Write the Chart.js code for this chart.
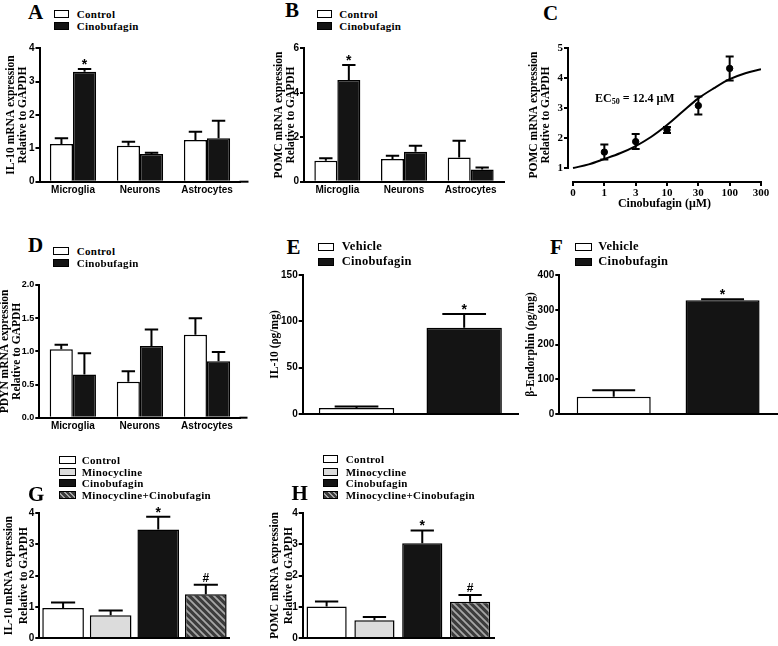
<!DOCTYPE html>
<html><head><meta charset="utf-8">
<script src="https://cdn.jsdelivr.net/npm/chart.js@4.4.1/dist/chart.umd.min.js"></script>
<style>
html,body{margin:0;padding:0;background:#fff;}
body{width:778px;height:646px;position:relative;overflow:hidden;}
canvas{position:absolute;}
.letter{position:absolute;font:bold 21px "Liberation Serif","Times New Roman",serif;line-height:1;color:#000;}
.legrow{position:absolute;display:flex;align-items:center;height:14px;font-family:"Liberation Serif","Times New Roman",serif;font-weight:bold;color:#000;white-space:nowrap;letter-spacing:0.3px;}
.sw{box-sizing:border-box;border:1.5px solid #000;flex:none;}
.ec50{position:absolute;font:bold 12px "Liberation Serif","Times New Roman",serif;color:#000;white-space:nowrap;line-height:14px;}
.ec50 sub{font-size:8px;vertical-align:-2px;}
</style></head><body>
<script>
// ---------- DATA ----------
const cellTypes = ['Microglia', 'Neurons', 'Astrocytes'];
const seriesABD = ['Control', 'Cinobufagin'];
// A: IL-10 mRNA
const il10Control = [1.13, 1.08, 1.25];
const il10ControlErr = [0.17, 0.12, 0.25];
const il10Cino = [3.30, 0.83, 1.30];
const il10CinoErr = [0.08, 0.04, 0.53];
const il10CinoMarks = ['*', '', ''];
// B: POMC mRNA
const pomcControl = [0.94, 1.02, 1.09];
const pomcControlErr = [0.11, 0.15, 0.75];
const pomcCino = [4.57, 1.35, 0.55];
const pomcCinoErr = [0.68, 0.27, 0.09];
const pomcCinoMarks = ['*', '', ''];
// C: dose response
const doseTickLabels = ['0', '1', '3', '10', '30', '100', '300'];
const dosePos = [1, 2, 3, 4, 5];
const doseMean = [1.53, 1.88, 2.27, 3.08, 4.32];
const doseErr = [0.25, 0.25, 0.10, 0.30, 0.40];
const fitPos = [0, 0.5, 1, 1.5, 2, 2.5, 3, 3.5, 4, 4.5, 5, 5.5, 6];
const fitVal = [1.00, 1.12, 1.30, 1.49, 1.73, 2.04, 2.43, 2.88, 3.32, 3.66, 3.96, 4.16, 4.29];
// D: PDYN mRNA
const pdynControl = [1.03, 0.54, 1.25];
const pdynControlErr = [0.07, 0.16, 0.25];
const pdynCino = [0.65, 1.08, 0.85];
const pdynCinoErr = [0.32, 0.25, 0.14];
// E, F
const treatEF = ['Vehicle', 'Cinobufagin'];
const il10Protein = [6.5, 93];
const il10ProteinErr = [1.5, 15];
const endorphin = [50, 327];
const endorphinErr = [18, 3];
const marksEF = ['', '*'];
// G, H
const groupsGH = ['Control', 'Minocycline', 'Cinobufagin', 'Minocycline+Cinobufagin'];
const il10Mino = [0.96, 0.73, 3.48, 1.40];
const il10MinoErr = [0.18, 0.15, 0.41, 0.31];
const pomcMino = [1.01, 0.57, 3.04, 1.16];
const pomcMinoErr = [0.16, 0.10, 0.41, 0.22];
const marksGH = ['', '', '*', '#'];

// ---------- STYLE ----------
const SANS = '"Liberation Sans", Arial, sans-serif';
const SERIF = '"Liberation Serif", "Times New Roman", serif';
const WHITE = '#ffffff', BLACK = '#141414', LGRAY = '#dcdcdc';
function hatchPattern() {
  const c = document.createElement('canvas'); c.width = 7; c.height = 7;
  const g = c.getContext('2d');
  g.fillStyle = '#3c3c3c'; g.fillRect(0, 0, 7, 7);
  g.strokeStyle = '#a6a6a6'; g.lineWidth = 1.8;
  g.beginPath();
  g.moveTo(-1, -1); g.lineTo(8, 8);
  g.moveTo(-8, -1); g.lineTo(1, 8);
  g.moveTo(6, -1); g.lineTo(15, 8);
  g.stroke();
  return g.createPattern(c, 'repeat');
}
const HATCH_CSS = 'repeating-linear-gradient(45deg,#3c3c3c 0px,#3c3c3c 2.5px,#a6a6a6 2.5px,#a6a6a6 4px)';

// ---------- PLUGINS ----------
const errPlugin = {
  id: 'errbars',
  afterDatasetsDraw(chart) {
    const ctx = chart.ctx, ys = chart.scales.y;
    chart.data.datasets.forEach((ds, di) => {
      if (!ds.errors) return;
      const meta = chart.getDatasetMeta(di);
      meta.data.forEach((el, i) => {
        const raw = ds.data[i];
        const val = (typeof raw === 'object') ? raw.y : raw;
        const e = ds.errors[i];
        const x = el.x;
        const yTop = ys.getPixelForValue(val + e);
        const yBot = ds.bothErr ? ys.getPixelForValue(val - e) : el.y;
        const cw = ds.capWidth || el.width * 0.58;
        ctx.save();
        ctx.strokeStyle = '#000'; ctx.lineWidth = 2;
        ctx.beginPath();
        ctx.moveTo(x, yBot); ctx.lineTo(x, yTop);
        ctx.moveTo(x - cw / 2, yTop); ctx.lineTo(x + cw / 2, yTop);
        if (ds.bothErr) { ctx.moveTo(x - cw / 2, yBot); ctx.lineTo(x + cw / 2, yBot); }
        ctx.stroke();
        if (ds.marks && ds.marks[i]) {
          const m = ds.marks[i];
          ctx.fillStyle = '#000';
          ctx.textAlign = 'center'; ctx.textBaseline = 'alphabetic';
          ctx.font = (m === '*' ? 'bold 14px ' : 'bold 12px ') + SANS;
          ctx.fillText(m, x, yTop - (m === '*' ? 0 : 2.5));
        }
        ctx.restore();
      });
    });
  }
};
const axisPlugin = {
  id: 'axisExtras',
  afterDraw(chart, args, opts) {
    const ca = chart.chartArea, ctx = chart.ctx;
    ctx.save(); ctx.strokeStyle = '#000'; ctx.lineWidth = 2; ctx.lineCap = 'butt';
    if (opts.extendX) {
      ctx.beginPath(); ctx.moveTo(ca.right - 1, ca.bottom); ctx.lineTo(ca.right + opts.extendX, ca.bottom); ctx.stroke();
    }
    if (opts.sep) {
      const xs = chart.scales.x, ys = chart.scales.y;
      ctx.beginPath();
      ctx.moveTo(ca.left, ys.getPixelForValue(opts.sep.yMin) + 1); ctx.lineTo(ca.left, ys.getPixelForValue(opts.sep.yMax) - 1);
      ctx.moveTo(xs.getPixelForValue(opts.sep.xMin) - 1, ca.bottom); ctx.lineTo(xs.getPixelForValue(opts.sep.xMax) + 1, ca.bottom);
      ctx.stroke();
    }
    ctx.restore();
  }
};

// ---------- HELPERS ----------
function panel(L, build) {
  const cl = Math.floor(L.titleX - L.lh / 2 - 1.5);
  const ct = Math.floor(L.top - 12);
  const cw = Math.ceil(L.right + (L.padRight ?? 6) - cl);
  const ch = Math.ceil(L.bottom + L.xH - ct);
  const cv = document.createElement('canvas');
  cv.width = cw; cv.height = ch;
  cv.style.left = cl + 'px'; cv.style.top = ct + 'px';
  document.body.appendChild(cv);
  const g = {
    yW: L.axisX - cl,
    padTop: L.top - ct,
    padRight: cw - (L.right - cl),
    xH: ch - (L.bottom - ct),
    titlePad: L.titleX - cl - L.lh / 2,
    lh: L.lh
  };
  const cfg = build(g);
  cfg.options.responsive = false;
  cfg.options.animation = false;
  cfg.options.layout = { padding: { top: g.padTop, right: g.padRight, left: 0, bottom: 0 } };
  cfg.options.plugins = Object.assign({ legend: { display: false }, tooltip: { enabled: false } }, cfg.options.plugins || {});
  cfg.plugins = [errPlugin, axisPlugin];
  return new Chart(cv, cfg);
}
function yAxis(g, o) {
  const tfs = o.tfs || 11.5;
  return {
    type: 'linear', min: o.min, max: o.max,
    afterFit: s => { s.width = g.yW; },
    afterBuildTicks: o.ticks ? (s => { s.ticks = o.ticks.map(v => ({ value: v })); }) : undefined,
    ticks: { stepSize: o.step, padding: 1, color: '#000', font: o.tickFont || { family: SANS, weight: 'bold', size: 10 }, callback: o.fmt || (v => v) },
    grid: { display: true, drawOnChartArea: false, drawTicks: true, tickLength: 4, color: '#000', lineWidth: 2 },
    border: { display: o.border !== false, color: '#000', width: 2 },
    title: { display: true, text: o.title, color: '#000', font: { family: SERIF, weight: 'bold', size: tfs, lineHeight: g.lh / tfs }, padding: { top: g.titlePad, bottom: 0 } }
  };
}
function xCat(g, show) {
  return {
    type: 'category', offset: true,
    afterFit: s => { s.height = g.xH; },
    grid: { display: false, drawTicks: false },
    border: { display: true, color: '#000', width: 2 },
    ticks: { display: show, padding: 3, color: '#000', font: { family: SANS, weight: 'bold', size: 10 }, autoSkip: false, maxRotation: 0 }
  };
}
function letter(ch, x, cy) {
  const d = document.createElement('div'); d.className = 'letter';
  d.textContent = ch; d.style.left = x + 'px'; d.style.top = (cy - 10.6) + 'px';
  document.body.appendChild(d);
}
function legend(boxX, rows, names, fills, o) {
  names.forEach((n, i) => {
    const r = document.createElement('div'); r.className = 'legrow';
    r.style.left = boxX + 'px'; r.style.top = (rows[i] - 7) + 'px'; r.style.fontSize = o.fs + 'px';
    const s = document.createElement('span'); s.className = 'sw';
    s.style.width = o.bw + 'px'; s.style.height = o.bh + 'px'; s.style.background = fills[i];
    const t = document.createElement('span'); t.textContent = n; t.style.marginLeft = (o.tx - boxX - o.bw) + 'px';
    r.appendChild(s); r.appendChild(t); document.body.appendChild(r);
  });
}
function groupedBars(L, labels, s1, e1, m1, s2, e2, m2, yo, extendX) {
  return panel(L, g => ({
    type: 'bar',
    data: { labels, datasets: [
      { label: seriesABD[0], data: s1, errors: e1, marks: m1, backgroundColor: WHITE, borderColor: '#000', borderWidth: 1.5, categoryPercentage: 0.69, barPercentage: 1.0 },
      { label: seriesABD[1], data: s2, errors: e2, marks: m2, backgroundColor: BLACK, borderColor: '#000', borderWidth: 1.5, categoryPercentage: 0.69, barPercentage: 1.0 }
    ] },
    options: { scales: { x: xCat(g, true), y: yAxis(g, yo) }, plugins: { axisExtras: { extendX } } }
  }));
}
function singleBars(L, labels, vals, errs, marks, colors, pct, yo) {
  return panel(L, g => ({
    type: 'bar',
    data: { labels, datasets: [
      { label: yo.title, data: vals, errors: errs, marks, backgroundColor: colors, borderColor: '#000', borderWidth: 1.5, categoryPercentage: pct, barPercentage: 1.0 }
    ] },
    options: { scales: { x: xCat(g, false), y: yAxis(g, yo) }, plugins: { axisExtras: {} } }
  }));
}

// ---------- PANELS ----------
// A
groupedBars({ titleX: 11, lh: 12.5, axisX: 39.5, top: 48.3, bottom: 181.7, right: 240.5, xH: 22, padRight: 10 },
  cellTypes, il10Control, il10ControlErr, null, il10Cino, il10CinoErr, il10CinoMarks,
  { min: 0, max: 4, step: 1, title: ['IL-10 mRNA expression', 'Relative to GAPDH'] }, 8);
// B
groupedBars({ titleX: 279, lh: 12, axisX: 304, top: 48.3, bottom: 181.7, right: 504, xH: 22 },
  cellTypes, pomcControl, pomcControlErr, null, pomcCino, pomcCinoErr, pomcCinoMarks,
  { min: 0, max: 6, step: 2, title: ['POMC mRNA expression', 'Relative to GAPDH'] }, 0);
// C
panel({ titleX: 534, lh: 12, axisX: 568, top: 48, bottom: 182, right: 761, xH: 31, padRight: 15 }, g => ({
  type: 'scatter',
  data: { datasets: [
    { label: 'fit', data: fitPos.map((x, i) => ({ x, y: fitVal[i] })), showLine: true, pointRadius: 0, borderColor: '#000', borderWidth: 2, tension: 0.4, cubicInterpolationMode: 'monotone' },
    { label: 'POMC', data: dosePos.map((x, i) => ({ x, y: doseMean[i] })), errors: doseErr, bothErr: true, capWidth: 8, showLine: false, pointRadius: 3.2, pointBackgroundColor: '#000', pointBorderColor: '#000' }
  ] },
  options: {
    scales: {
      x: {
        type: 'linear', min: -0.16, max: 6,
        afterFit: s => { s.height = g.xH; },
        afterBuildTicks: s => { s.ticks = doseTickLabels.map((_, i) => ({ value: i })); },
        ticks: { callback: v => doseTickLabels[v], font: { family: SERIF, weight: 'bold', size: 11 }, padding: 1, color: '#000', autoSkip: false, maxRotation: 0 },
        grid: { display: true, drawOnChartArea: false, drawTicks: true, tickLength: 4, color: '#000', lineWidth: 2 },
        border: { display: false },
        title: { display: true, text: 'Cinobufagin (μM)', color: '#000', font: { family: SERIF, weight: 'bold', size: 12 }, padding: { top: 0, bottom: 2 } }
      },
      y: yAxis(g, { min: 0.533, max: 5, ticks: [1, 2, 3, 4, 5], border: false, tickFont: { family: SERIF, weight: 'bold', size: 11 }, title: ['POMC mRNA expression', 'Relative to GAPDH'] })
    },
    plugins: { axisExtras: { sep: { yMin: 1, yMax: 5, xMin: 0, xMax: 6 } } }
  }
}));
// D
groupedBars({ titleX: 5, lh: 12, axisX: 39.3, top: 285, bottom: 417.7, right: 240.5, xH: 22, padRight: 10 },
  cellTypes, pdynControl, pdynControlErr, null, pdynCino, pdynCinoErr, null,
  { min: 0, max: 2, step: 0.5, fmt: v => v.toFixed(1), tickFont: { family: SANS, weight: 'bold', size: 9 }, title: ['PDYN mRNA expression', 'Relative to GAPDH'] }, 7);
// E
singleBars({ titleX: 275, lh: 13, axisX: 302.7, top: 275, bottom: 417.7, right: 518, xH: 3 },
  treatEF, il10Protein, il10ProteinErr, marksEF, [WHITE, BLACK], 0.7,
  { min: 0, max: 150, step: 50, title: 'IL-10 (ρg/mg)' });
// F
singleBars({ titleX: 531, lh: 13, axisX: 559.3, top: 275, bottom: 417.7, right: 777, xH: 3, padRight: 1 },
  treatEF, endorphin, endorphinErr, marksEF, [WHITE, BLACK], 0.68,
  { min: 0, max: 400, step: 100, title: 'β-Endorphin (ρg/mg)' });
// G
const HATCH = hatchPattern();
singleBars({ titleX: 9.5, lh: 14.5, axisX: 39.3, top: 513.3, bottom: 641.7, right: 229.6, xH: 3 },
  groupsGH, il10Mino, il10MinoErr, marksGH, [WHITE, LGRAY, BLACK, HATCH], 0.875,
  { min: 0, max: 4, step: 1, title: ['IL-10 mRNA expression', 'Relative to GAPDH'] });
// H
singleBars({ titleX: 275.5, lh: 14, axisX: 302.7, top: 513.3, bottom: 641.7, right: 494, xH: 3 },
  groupsGH, pomcMino, pomcMinoErr, marksGH, [WHITE, LGRAY, BLACK, HATCH], 0.84,
  { min: 0, max: 4, step: 1, title: ['POMC mRNA expression', 'Relative to GAPDH'] });

// ---------- LETTERS, LEGENDS, LABELS ----------
letter('A', 28, 12.5); letter('B', 285, 11); letter('C', 543, 13.3);
letter('D', 28, 245.5); letter('E', 286.5, 247.5); letter('F', 550, 247.5);
letter('G', 28, 495); letter('H', 291.5, 494);
const fills2 = [WHITE, BLACK];
const fills4 = [WHITE, LGRAY, BLACK, HATCH_CSS];
legend(54, [14.3, 25.7], seriesABD, fills2, { bw: 15, bh: 8, tx: 76.7, fs: 11 });
legend(316.7, [14.3, 25.7], seriesABD, fills2, { bw: 15, bh: 8, tx: 339.3, fs: 11 });
legend(53, [250.7, 262.7], seriesABD, fills2, { bw: 16, bh: 8, tx: 76.7, fs: 11 });
legend(318, [246.7, 261.7], treatEF, fills2, { bw: 16, bh: 8, tx: 341.7, fs: 12.5 });
legend(575, [246.7, 261.7], treatEF, fills2, { bw: 16.7, bh: 8, tx: 598.3, fs: 12.5 });
legend(59.3, [460, 471.7, 483.3, 495], groupsGH, fills4, { bw: 16.4, bh: 8, tx: 81.7, fs: 11 });
legend(323, [459.3, 471.7, 483.3, 495], groupsGH, fills4, { bw: 15, bh: 8, tx: 345.7, fs: 11 });
const ec = document.createElement('div'); ec.className = 'ec50';
ec.innerHTML = 'EC<sub>50</sub> = 12.4 μM';
ec.style.left = '595px'; ec.style.top = (98 - 7) + 'px';
document.body.appendChild(ec);
</script>
</body></html>
